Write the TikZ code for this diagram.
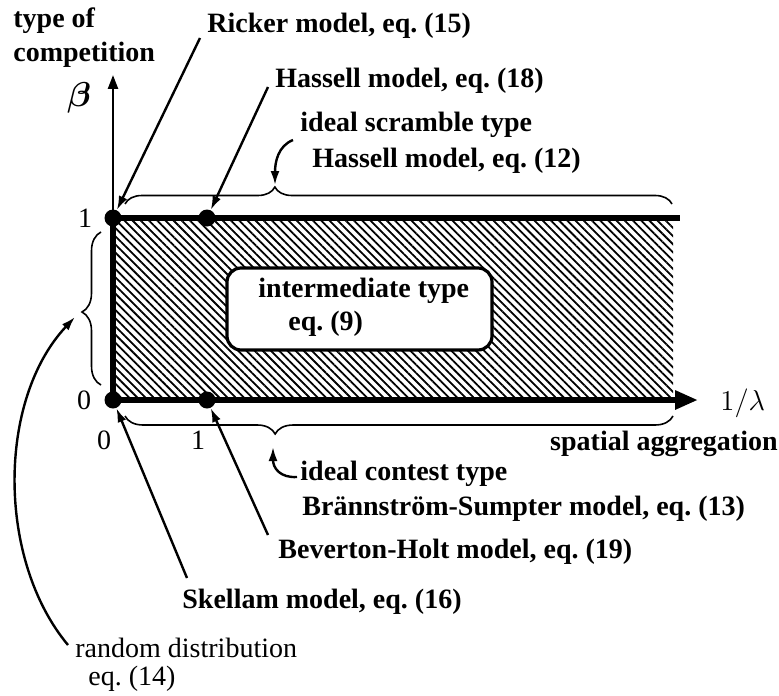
\documentclass[tikz,border=0pt]{standalone}
\usepackage{amsmath}
\usepackage{fontspec}
\setmainfont{Liberation Serif}
\usepackage{tikz}
\usetikzlibrary{arrows.meta, patterns.meta, decorations.pathreplacing}

\tikzset{
    lbl/.style={font=\fontsize{14}{17}\selectfont\bfseries, anchor=base west, inner sep=0pt},
    plain/.style={font=\fontsize{14}{17}\selectfont, anchor=base west, inner sep=0pt},
    num/.style={font=\fontsize{14}{17}\selectfont, inner sep=0pt},
    dot/.style={circle, fill=black, minimum size=8.5pt, inner sep=0pt},
    ptr/.style={-{Latex[length=7pt, width=4.5pt]}, line width=1.2pt},
    brc/.style 2 args={decorate, decoration={brace, amplitude=#2, aspect=#1}, line width=0.8pt},
    brcm/.style 2 args={decorate, decoration={brace, mirror, amplitude=#2, aspect=#1}, line width=0.8pt},
}

\begin{document}
\begin{tikzpicture}[x=0.5pt, y=-0.5pt]
    \useasboundingbox (0,0) rectangle (779,695);

    % Hatched region and intermediate box
    \fill[pattern={Lines[angle=-45, distance=2.9pt, line width=0.9pt]}] (113,218) rectangle (673,400);
    \draw[line width=1.6pt, rounded corners=7pt, fill=white] (227,268) rectangle (492,350);
    \node[lbl] (mid1) at (258,297) {intermediate type};
    \node[lbl] (mid2) at (288,330) {eq.~(9)};

    % Axes
    \draw[line width=1.2pt, -{Triangle[length=7pt, width=5pt]}] (113,218) -- (113,75);
    \draw[line width=3.2pt] (113,400) -- (113,218) -- (680,218);
    \draw[line width=3.2pt, -{Triangle[length=11.5pt, width=9pt]}] (113,400) -- (698,400);

    % Corner points
    \node[dot] (p00) at (113,400) {};
    \node[dot] (p10) at (207,400) {};
    \node[dot] (p01) at (113,218) {};
    \node[dot] (p11) at (207,218) {};

    \node[num] (b1) at (85,218) {1};
    \node[num] (b0) at (84,400) {0};
    \node[num] (l0) at (104,440) {0};
    \node[num] (l1) at (198,440) {1};
    \node[num, font=\fontsize{16}{18}\selectfont] (beta) at (79,98) {$\boldsymbol{\beta}$};
    \node[plain, font=\fontsize{15}{18}\selectfont] (lam) at (720,410) {$1/\lambda$};
    \node[lbl] (type1) at (13,28) {type of};
    \node[lbl] (type2) at (13,62) {competition};
    \node[lbl, anchor=base east] (aggr) at (778,450) {spatial aggregation};

    % Braces
    \draw[brc={0.274}{8.5pt}] (125,204) -- (672,204);
    \draw[brcm={0.274}{9pt}] (125,416) -- (673,416);
    \draw[brc={0.477}{9.5pt}] (101,385) -- (101,232);

    % Labels
    \node[lbl] (ricker) at (207,33) {Ricker model, eq.~(15)};
    \node[lbl] (has18) at (275,88) {Hassell model, eq.~(18)};
    \node[lbl] (scr1) at (300,132) {ideal scramble type};
    \node[lbl] (scr2) at (312,168) {Hassell model, eq.~(12)};
    \node[lbl] (con1) at (300,480) {ideal contest type};
    \node[lbl] (con2) at (302,515) {Brännström-Sumpter model, eq.~(13)};
    \node[lbl] (bev) at (278,558) {Beverton-Holt model, eq.~(19)};
    \node[lbl] (skel) at (182,608) {Skellam model, eq.~(16)};
    \node[plain] (rand1) at (75,657) {random distribution};
    \node[plain] (rand2) at (88,685) {eq.~(14)};

    % Pointers
    \coordinate (rickertail) at (200,38);
    \coordinate (has18tail) at (268,87);
    \coordinate (bevtail) at (268,535);
    \coordinate (skeltail) at (187,578);
    \coordinate (scrtail) at (293,140);
    \coordinate (scrtip) at (275,185);
    \coordinate (contail) at (297,477);
    \coordinate (contip) at (273,447);
    \coordinate (randtail) at (68,645);
    \coordinate (randtip) at (75,317);
    \draw[ptr] (rickertail) -- (p01);
    \draw[ptr] (has18tail) -- (p11);
    \draw[ptr] (bevtail) -- (p10);
    \draw[ptr] (skeltail) -- (p00);
    \draw[ptr] (scrtail) .. controls (278,146) and (275,162) .. (scrtip);
    \draw[ptr] (contail) .. controls (280,478) and (273,468) .. (contip);
    \draw[ptr] (randtail) .. controls (-3,560) and (-3,400) .. (randtip);
\end{tikzpicture}
\end{document}
